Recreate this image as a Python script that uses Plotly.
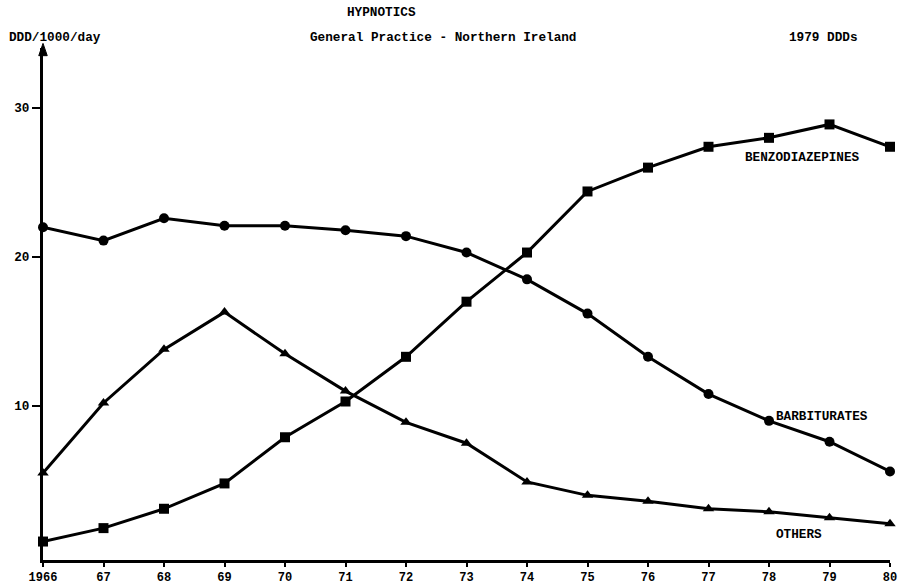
import plotly.graph_objects as go

years = list(range(1966, 1981))
tick_labels = ["1966", "67", "68", "69", "70", "71", "72", "73", "74", "75", "76", "77", "78", "79", "80"]

barbiturates = [22.0, 21.1, 22.6, 22.1, 22.1, 21.8, 21.4, 20.3, 18.5, 16.2, 13.3, 10.8, 9.0, 7.6, 5.6]
benzodiazepines = [0.9, 1.8, 3.1, 4.8, 7.9, 10.3, 13.3, 17.0, 20.3, 24.4, 26.0, 27.4, 28.0, 28.9, 27.4]
others = [5.5, 10.2, 13.8, 16.3, 13.5, 11.0, 8.9, 7.5, 4.9, 4.0, 3.6, 3.1, 2.9, 2.5, 2.1]

FONT = "Liberation Mono"
fs = 12.7

fig = go.Figure()
line = dict(color="black", width=3)
fig.add_trace(go.Scatter(x=years, y=barbiturates, mode="lines+markers", line=line,
                         marker=dict(symbol="circle", size=10, color="black"), cliponaxis=False))
fig.add_trace(go.Scatter(x=years, y=benzodiazepines, mode="lines+markers", line=line,
                         marker=dict(symbol="square", size=10, color="black"), cliponaxis=False))
fig.add_trace(go.Scatter(x=years, y=others, mode="lines+markers", line=line,
                         marker=dict(symbol="triangle-up", size=10, color="black"), cliponaxis=False))

fig.update_layout(
    width=906, height=587,
    margin=dict(l=43, r=16, t=48, b=27, autoexpand=False),
    plot_bgcolor="white", paper_bgcolor="white",
    showlegend=False,
    font=dict(family=FONT, size=fs, color="black", weight="bold"),
)
fig.update_xaxes(range=[1966, 1980], tickvals=years, ticktext=tick_labels, automargin=False,
                 showgrid=False, zeroline=False, showline=True, linecolor="black", linewidth=3,
                 ticks="outside", ticklen=4, tickwidth=2, tickcolor="black",
                 tickfont=dict(family=FONT, size=12, weight="bold"))
fig.update_yaxes(range=[-0.34, 34.03], tickvals=[10, 20, 30], ticktext=["10", "20", "30"], automargin=False,
                 showgrid=False, zeroline=False, showline=True, linecolor="black", linewidth=3,
                 ticks="outside", ticklen=8, tickwidth=2, tickcolor="black",
                 tickfont=dict(family=FONT, size=fs, weight="bold"))

# arrowhead at top of the y axis (decoration)
fig.add_shape(type="path", xref="paper", yref="paper",
              path="M -0.0050,0.985 L 0,1.009 L 0.0050,0.985 Z",
              fillcolor="black", line=dict(color="black", width=1))

ann_font = dict(family=FONT, size=fs, color="black", weight="bold")
fig.add_annotation(x=0.40, xref="paper", y=1.070, yref="paper", text="HYPNOTICS",
                   showarrow=False, font=ann_font, xanchor="center", yanchor="middle")
fig.add_annotation(x=0.472, xref="paper", y=1.020, yref="paper", text="General Practice - Northern Ireland",
                   showarrow=False, font=ann_font, xanchor="center", yanchor="middle")
fig.add_annotation(x=-0.043, xref="paper", y=1.020, yref="paper", text="DDD/1000/day",
                   showarrow=False, font=ann_font, xanchor="left", yanchor="middle")
fig.add_annotation(x=0.922, xref="paper", y=1.020, yref="paper", text="1979 DDDs",
                   showarrow=False, font=ann_font, xanchor="center", yanchor="middle")
fig.add_annotation(x=1978.55, y=26.7, text="BENZODIAZEPINES", showarrow=False, font=ann_font)
fig.add_annotation(x=1978.88, y=9.26, text="BARBITURATES", showarrow=False, font=ann_font)
fig.add_annotation(x=1978.5, y=1.34, text="OTHERS", showarrow=False, font=ann_font)

fig.write_html("out.html")
